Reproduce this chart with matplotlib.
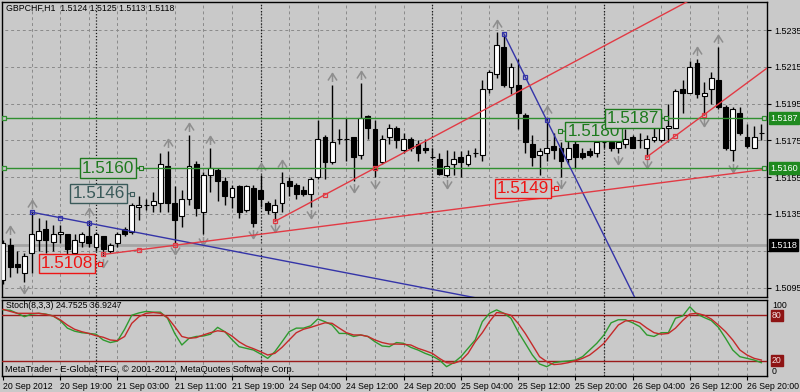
import numpy as np
import matplotlib
matplotlib.use('Agg')
import matplotlib.pyplot as plt
import matplotlib.transforms as mtransforms
from matplotlib.path import Path

plt.rcParams['font.family'] = ['Liberation Sans', 'DejaVu Sans']

symbol_title = 'GBPCHF,H1  1.5124 1.5125 1.5113 1.5118'
stoch_title = 'Stoch(8,3,3) 24.7525 36.9247'
copyright_text = 'MetaTrader - E-Global TFG, \u00a9 2001-2012, MetaQuotes Software Corp.'

# hourly bars, 20 Sep 11:00 .. 26 Sep 22:00
bar_open = [1.5099, 1.5118, 1.5108, 1.5103, 1.5114, 1.5121, 1.5127, 1.5120, 1.5124, 1.5124,
            1.5114, 1.5120, 1.5123, 1.5117, 1.5123, 1.5115, 1.5119, 1.5127, 1.5125, 1.5139,
            1.5140, 1.5140, 1.5141, 1.5161, 1.5141, 1.5134, 1.5143, 1.5162, 1.5136, 1.5156,
            1.5159, 1.5153, 1.5144, 1.5150, 1.5137, 1.5149, 1.5148, 1.5141, 1.5136, 1.5141,
            1.5153, 1.5151, 1.5148, 1.5146, 1.5155, 1.5177, 1.5163, 1.5176, 1.5176, 1.5177,
            1.5167, 1.5188, 1.5181, 1.5163, 1.5177, 1.5182, 1.5170, 1.5176, 1.5173, 1.5171,
            1.5166, 1.5165, 1.5156, 1.5162, 1.5166, 1.5162, 1.5168, 1.5167, 1.5203, 1.5211,
            1.5226, 1.5204, 1.5205, 1.5189, 1.5173, 1.5167, 1.5168, 1.5172, 1.5171, 1.5165,
            1.5173, 1.5168, 1.5169, 1.5168, 1.5174, 1.5174, 1.5171, 1.5173, 1.5177, 1.5175,
            1.5171, 1.5175, 1.5175, 1.5182, 1.5182, 1.5203, 1.5201, 1.5217, 1.5199, 1.5203,
            1.5208, 1.5193, 1.5170, 1.5190, 1.5177, 1.5171, 1.5179]
bar_high = [1.5121, 1.5122, 1.5115, 1.5114, 1.5136, 1.5133, 1.5132, 1.5129, 1.5129, 1.5124,
            1.5124, 1.5125, 1.5132, 1.5125, 1.5123, 1.5119, 1.5125, 1.5128, 1.5141, 1.5145,
            1.5143, 1.5147, 1.5168, 1.5169, 1.5150, 1.5148, 1.5178, 1.5164, 1.5158, 1.5171,
            1.5160, 1.5155, 1.5151, 1.5151, 1.5151, 1.5151, 1.5156, 1.5142, 1.5143, 1.5158,
            1.5155, 1.5152, 1.5150, 1.5155, 1.5186, 1.5178, 1.5205, 1.5181, 1.5187, 1.5177,
            1.5206, 1.5189, 1.5186, 1.5178, 1.5184, 1.5183, 1.5179, 1.5177, 1.5175, 1.5176,
            1.5171, 1.5168, 1.5170, 1.5169, 1.5169, 1.5170, 1.5171, 1.5208, 1.5213, 1.5234,
            1.5233, 1.5217, 1.5219, 1.5190, 1.5178, 1.5171, 1.5187, 1.5179, 1.5174, 1.5175,
            1.5175, 1.5171, 1.5171, 1.5176, 1.5176, 1.5176, 1.5177, 1.5181, 1.5178, 1.5179,
            1.5178, 1.5182, 1.5190, 1.5195, 1.5203, 1.5208, 1.5218, 1.5219, 1.5207, 1.5212,
            1.5226, 1.5194, 1.5193, 1.5193, 1.5184, 1.5183, 1.5184]
bar_low = [1.5097, 1.5101, 1.5103, 1.5098, 1.5103, 1.5115, 1.5114, 1.5115, 1.5119, 1.5108,
           1.5113, 1.5117, 1.5117, 1.5115, 1.5112, 1.5114, 1.5117, 1.5123, 1.5124, 1.5132,
           1.5137, 1.5136, 1.5136, 1.5136, 1.5119, 1.5128, 1.5140, 1.5134, 1.5124, 1.5147,
           1.5142, 1.5140, 1.5138, 1.5133, 1.5136, 1.5128, 1.5139, 1.5135, 1.5131, 1.5136,
           1.5145, 1.5143, 1.5145, 1.5139, 1.5154, 1.5154, 1.5162, 1.5173, 1.5164, 1.5153,
           1.5165, 1.5176, 1.5155, 1.5162, 1.5173, 1.5171, 1.5168, 1.5169, 1.5164, 1.5168,
           1.5165, 1.5156, 1.5155, 1.5156, 1.5155, 1.5161, 1.5166, 1.5164, 1.5201, 1.5209,
           1.5204, 1.5200, 1.5181, 1.5168, 1.5161, 1.5156, 1.5164, 1.5165, 1.5155, 1.5162,
           1.5160, 1.5165, 1.5166, 1.5166, 1.5171, 1.5169, 1.5168, 1.5171, 1.5171, 1.5171,
           1.5166, 1.5174, 1.5174, 1.5174, 1.5182, 1.5190, 1.5201, 1.5198, 1.5189, 1.5195,
           1.5192, 1.5170, 1.5164, 1.5178, 1.5171, 1.5171, 1.5175]
bar_close = [1.5119, 1.5106, 1.5106, 1.5112, 1.5124, 1.5126, 1.5121, 1.5124, 1.5125, 1.5116,
             1.5121, 1.5124, 1.5119, 1.5124, 1.5116, 1.5118, 1.5124, 1.5124, 1.5140, 1.5140,
             1.5140, 1.5142, 1.5162, 1.5141, 1.5132, 1.5143, 1.5161, 1.5138, 1.5156, 1.5160,
             1.5153, 1.5145, 1.5149, 1.5136, 1.5150, 1.5130, 1.5143, 1.5137, 1.5140, 1.5152,
             1.5150, 1.5146, 1.5146, 1.5154, 1.5176, 1.5163, 1.5174, 1.5176, 1.5176, 1.5166,
             1.5187, 1.5182, 1.5159, 1.5176, 1.5182, 1.5175, 1.5176, 1.5171, 1.5168, 1.5170,
             1.5166, 1.5157, 1.5161, 1.5165, 1.5163, 1.5167, 1.5168, 1.5203, 1.5212, 1.5227,
             1.5205, 1.5215, 1.5190, 1.5174, 1.5166, 1.5169, 1.5171, 1.5170, 1.5164, 1.5171,
             1.5166, 1.5166, 1.5167, 1.5174, 1.5174, 1.5171, 1.5174, 1.5176, 1.5171, 1.5175,
             1.5176, 1.5177, 1.5182, 1.5183, 1.5202, 1.5201, 1.5215, 1.5200, 1.5201, 1.5209,
             1.5193, 1.5171, 1.5192, 1.5179, 1.5172, 1.5177, 1.5179]

stoch_main = [87, 86.5, 82.5, 78, 81.5, 82.5, 81.5, 79, 73, 63,
              59, 57, 56, 55, 47.4, 44, 46, 61.5, 80, 83,
              85, 84, 84, 76, 56, 40.8, 49.6, 52, 52.6, 55,
              64, 58.3, 48, 38.6, 36.4, 34.2, 29, 23.2, 32, 45,
              58.3, 63, 63, 66, 75, 71.5, 67, 56, 56, 52,
              54, 52, 45, 39.5, 38.6, 44, 43, 37.7, 34.2, 29.8,
              26.3, 21, 12.3, 17.5, 25.4, 36.4, 47.4, 71.5, 82.5, 87,
              82.5, 76, 58.3, 43, 27.6, 15.8, 12.3, 17.5, 18.9, 19.7,
              21, 25.4, 34.2, 43, 54, 70, 74, 74, 70, 65,
              54, 52, 57, 57, 76, 79, 91, 81.5, 77, 73,
              64, 49.6, 34.2, 25.4, 23.2, 21, 17.5]
stoch_signal = [87.7, 85, 82.5, 82.5, 82.5, 82.5, 81, 79, 74, 67,
                61.5, 58.3, 56, 53, 51, 47.4, 46.5, 52, 69.3, 78,
                82.5, 83.5, 82.5, 77, 65, 52, 49.6, 50.5, 54, 57,
                59.5, 58.3, 52.6, 45, 39.5, 36, 32, 27.6, 29.8, 37.7,
                47.4, 57, 61.5, 64, 67, 70, 69.3, 63, 57, 54,
                54, 52, 47.4, 44, 42, 42, 41.7, 40.8, 36.4, 33.3,
                29.8, 23.2, 17.5, 16.7, 20, 29.8, 45, 57, 71.5, 83.5,
                82.5, 80, 69.3, 56, 40.8, 25.4, 18.9, 15, 15.8, 17.5,
                20, 23.2, 27.6, 35, 43, 55, 67, 72.5, 73, 70,
                63, 57, 55, 56, 63, 73, 81.5, 82.5, 80, 75,
                67, 58.3, 47.4, 34.2, 27.6, 23.2, 21]

time_labels = ['20 Sep 2012', '20 Sep 19:00', '21 Sep 03:00', '21 Sep 11:00', '21 Sep 19:00',
               '24 Sep 04:00', '24 Sep 12:00', '24 Sep 20:00', '25 Sep 04:00', '25 Sep 12:00',
               '25 Sep 20:00', '26 Sep 04:00', '26 Sep 12:00', '26 Sep 20:00']
time_label_bars = [0, 8, 16, 24, 32, 40, 48, 56, 64, 72, 80, 88, 96, 104]
day_start_bars = [13, 36, 60, 84]
price_ticks = [1.5095, 1.5115, 1.5135, 1.5155, 1.5175, 1.5195, 1.5215, 1.5235]

fractal_up = [1, 4, 12, 23, 26, 29, 36, 39, 46, 50, 69, 76, 97, 100]
fractal_down = [3, 14, 24, 28, 35, 38, 43, 49, 52, 62, 78, 86, 90, 98, 102]

# trend lines as (bar1, price1, bar2, price2), drawn as rays
blue_lines = [(4, 1.5136, 12, 1.5130), (70, 1.5233, 76, 1.5186)]
red_lines = [(14, 1.5113, 24, 1.5118), (38, 1.5131, 52, 1.5160), (90, 1.5166, 98, 1.5189)]
green_levels = [1.5187, 1.5160]
bid_price = 1.5118

label_prices = [1.5160, 1.5146, 1.5108, 1.5149, 1.5180, 1.5187]
label_bars = [19.3, 18.0, 13.6, 77.3, 77.9, 92.7]
label_colors = ['#1e7a1e', '#3a5a5a', '#ee1515', '#ee1515', '#1e7a1e', '#1e7a1e']
label_sides = ['left', 'left', 'left', 'left', 'right', 'left']

BG = '#c9c9c9'
GRID = '#8a8a8a'
GREEN = '#2f8f2f'


def ray(ax, line, color):
    b1, p1, b2, p2 = line
    slope = (p2 - p1) / (b2 - b1)
    ax.plot([b1, 112], [p1, p1 + slope * (112 - b1)], color=color, lw=1, zorder=6)
    xs = [b1, (b1 + b2) / 2, b2]
    ax.plot(xs, [p1 + slope * (v - b1) for v in xs], ls='none', marker='s', ms=3.5,
            mfc='none', mec=color, mew=0.9, zorder=7)


fig = plt.figure(figsize=(8, 3.92), dpi=100, facecolor=BG)
ax = fig.add_axes([2 / 800, 95 / 392, 765 / 800, 295 / 392], facecolor=BG)
ax2 = fig.add_axes([2 / 800, 16 / 392, 765 / 800, 76 / 392], facecolor=BG)

n = len(bar_open)
x = np.arange(n)

# grid + day separators
for a, lo, hi in [(ax, 1.50, 1.53), (ax2, 0, 100)]:
    a.vlines(range(4, n, 4), lo, hi, colors=GRID, linestyles=(0, (3, 3)), lw=0.7, zorder=0)
    a.vlines(day_start_bars, lo, hi, colors='#1a1a1a', linestyles=(0, (1, 1.5)), lw=0.9, zorder=1)
ax.hlines(price_ticks, -1, n + 1, colors=GRID, linestyles=(0, (3, 3)), lw=0.7, zorder=0)

ax.axhline(bid_price, color='#a4a4a4', lw=2, zorder=1)
for p in green_levels:
    ax.axhline(p, color=GREEN, lw=1, zorder=6)
    ax.plot([0.1, 106.4], [p, p], ls='none', marker='s', ms=3.5, mfc=BG, mec=GREEN, mew=0.9, zorder=7)

# candles
o, h, l, c = map(np.array, (bar_open, bar_high, bar_low, bar_close))
bull = c >= o
ax.vlines(x, l, h, colors='black', lw=1, zorder=4)
ax.bar(x, np.abs(c - o), bottom=np.minimum(o, c), width=0.68,
       color=np.where(bull, 'white', 'black'), edgecolor='black', lw=0.8, zorder=5)

# fractals
up_arrow = Path([(-0.9, -0.6), (0, 0.8), (0.9, -0.6), (0, 0.8), (0, -0.9)],
                [Path.MOVETO, Path.LINETO, Path.LINETO, Path.MOVETO, Path.LINETO])
down_arrow = Path([(vx, -vy) for vx, vy in up_arrow.vertices], up_arrow.codes)
up_tr = mtransforms.offset_copy(ax.transData, fig=fig, y=8, units='dots')
dn_tr = mtransforms.offset_copy(ax.transData, fig=fig, y=-7, units='dots')
ax.plot(fractal_up, h[fractal_up], ls='none', marker=up_arrow, ms=6.5, mec='#8e8e8e',
        mfc='none', mew=1.1, transform=up_tr, zorder=4)
ax.plot(fractal_down, l[fractal_down], ls='none', marker=down_arrow, ms=6.5, mec='#8e8e8e',
        mfc='none', mew=1.1, transform=dn_tr, zorder=4)

for line in blue_lines:
    ray(ax, line, '#3434a8')
for line in red_lines:
    ray(ax, line, '#e23a44')

# price labels on chart
for p, b, col, side in zip(label_prices, label_bars, label_colors, label_sides):
    dx = -7 if side == 'left' else 7
    ax.annotate(f'{p:.4f}', xy=(b, p), xytext=(dx, 0), textcoords='offset pixels',
                ha='right' if side == 'left' else 'left', va='center', fontsize=12.3, color=col,
                bbox=dict(boxstyle='square,pad=0.12', fc=BG, ec=col, lw=1),
                arrowprops=dict(arrowstyle='-', color=col, lw=0.8, shrinkA=0, shrinkB=0), zorder=8)
    ax.plot(b, p, ls='none', marker='s', ms=3, mfc=BG, mec=col, mew=0.8, zorder=9)

# price axis (the 1.5115 tick text sits under the bid label)
ax.set_xlim(-0.14, 106.79)
ax.set_ylim(1.508989, 1.525022)
ax.yaxis.tick_right()
ax.set_yticks(price_ticks)
ax.set_yticklabels(['' if abs(p - bid_price) < 0.0005 else f'{p:.4f}' for p in price_ticks])
ax.tick_params(axis='y', length=3, width=0.8, pad=2, labelsize=6.5)
ax.set_xticks([])
ytr = mtransforms.blended_transform_factory(ax.transAxes, ax.transData)
for p, fc in [(green_levels[0], '#1f8a1f'), (green_levels[1], '#1f8a1f'), (bid_price, 'black')]:
    ax.annotate(f'{p:.4f}', xy=(1, p), xycoords=ytr, xytext=(3, 0), textcoords='offset pixels',
                ha='left', va='center', fontsize=6.5, color='white', annotation_clip=False,
                bbox=dict(boxstyle='square,pad=0.15', fc=fc, ec=fc), zorder=10)
ax.annotate(symbol_title, xy=(0, 1), xycoords='axes fraction', xytext=(4, -6),
            textcoords='offset pixels', ha='left', va='center', fontsize=6.3)

# stochastic window
ax2.axhline(80, color='#9b1b1b', lw=1, zorder=3)
ax2.axhline(20, color='#9b1b1b', lw=1, zorder=3)
ax2.plot(x, stoch_main, color='#2f9a2f', lw=1, zorder=4)
ax2.plot(x, stoch_signal, color='#c42a2a', lw=1, zorder=4)
ax2.set_xlim(-0.14, 106.79)
ax2.set_ylim(0, 100)
ax2.set_yticks([])
ax2.set_xticks(time_label_bars)
ax2.set_xticklabels(time_labels, ha='left')
ax2.tick_params(axis='x', length=3, width=0.8, pad=1.5, labelsize=6.3)
str2 = mtransforms.blended_transform_factory(ax2.transAxes, ax2.transData)
ax2.annotate('100', xy=(1, 100), xycoords=str2, xytext=(5, -5), textcoords='offset pixels',
             ha='left', va='center', fontsize=6.3, annotation_clip=False)
ax2.annotate('0', xy=(1, 0), xycoords=str2, xytext=(5, 5), textcoords='offset pixels',
             ha='left', va='center', fontsize=6.3, annotation_clip=False)
for lev in (80, 20):
    ax2.annotate(str(lev), xy=(1, lev), xycoords=str2, xytext=(5, 0), textcoords='offset pixels',
                 ha='left', va='center', fontsize=6.3, color='#f4dede', annotation_clip=False,
                 bbox=dict(boxstyle='square,pad=0.1', fc='#8e1414', ec='#8e1414'))
ax2.annotate(stoch_title, xy=(0, 1), xycoords='axes fraction', xytext=(4, -6),
             textcoords='offset pixels', ha='left', va='center', fontsize=6.3)
ax2.annotate(copyright_text, xy=(0, 0), xycoords='axes fraction', xytext=(3, 6),
             textcoords='offset pixels', ha='left', va='center', fontsize=6.6)

for a in (ax, ax2):
    for s in a.spines.values():
        s.set_color('black')
        s.set_linewidth(1)

fig.savefig('out.png', dpi=100, facecolor=BG)
